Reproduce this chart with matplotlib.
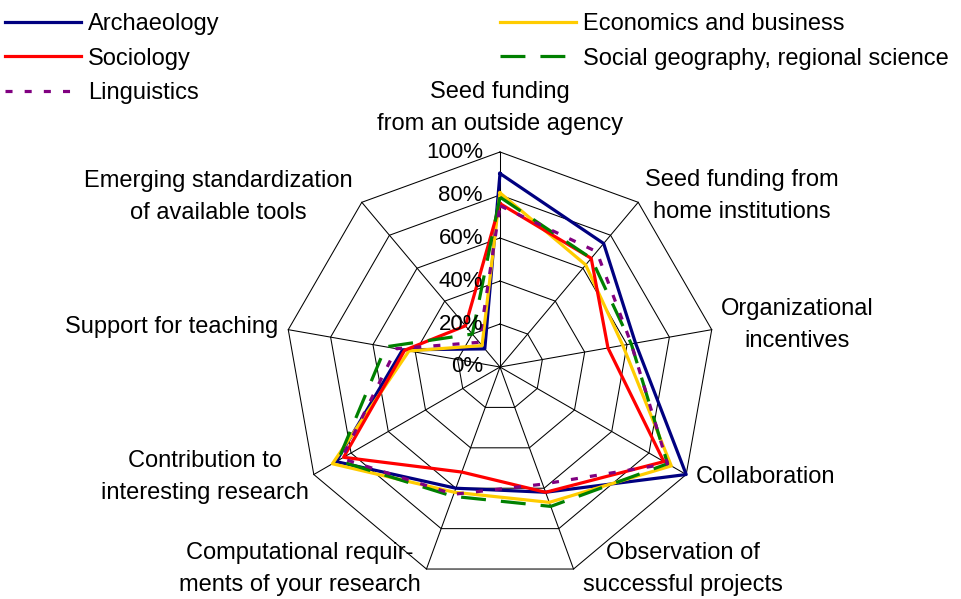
import numpy as np
import matplotlib
matplotlib.use("Agg")
import matplotlib.pyplot as plt
from matplotlib.transforms import ScaledTranslation

plt.rcParams['font.family'] = ['Liberation Sans', 'DejaVu Sans']

categories = [
    "Seed funding\nfrom an outside agency",
    "Seed funding from\nhome institutions",
    "Organizational\nincentives",
    "Collaboration",
    "Observation of\nsuccessful projects",
    "Computational requir-\nments of your research",
    "Contribution to\ninteresting research",
    "Support for teaching",
    "Emerging standardization\nof available tools",
]
tick_levels = [0, 20, 40, 60, 80, 100]
tick_labels = ["0%", "20%", "40%", "60%", "80%", "100%"]

archaeology = [90, 75, 64, 100, 62, 60, 88, 46, 11]
economics = [81, 62, 58, 92, 67, 62, 90, 43, 13]
sociology = [76, 66, 51, 88, 62, 52, 84, 45, 25]
social_geo = [79, 66, 62, 90, 69, 64, 87, 54, 20]
linguistics = [75, 70, 62, 90, 58, 63, 85, 49, 15]

series_names = ["Archaeology", "Economics and business", "Sociology",
                "Social geography, regional science", "Linguistics"]
series_values = [archaeology, economics, sociology, social_geo, linguistics]

FS = 17
W, H = 962, 599
fig = plt.figure(figsize=(W / 100, H / 100), dpi=100)
cx, cy, R = 500, 367, 215
ax = fig.add_axes([(cx - R) / W, (H - cy - R) / H, 2 * R / W, 2 * R / H],
                  projection='polar')
ax.set_theta_zero_location('N')
ax.set_theta_direction(-1)
ax.set_ylim(0, 100)
ax.grid(False)
ax.set_xticks([])
ax.set_yticks([])
ax.spines['polar'].set_visible(False)
ax.patch.set_alpha(0)

n = len(categories)
theta = np.linspace(0, 2 * np.pi, n, endpoint=False)
closed = np.append(theta, theta[0])

for lvl in tick_levels[1:]:
    ax.plot(closed, [lvl] * (n + 1), color='black', lw=0.75, zorder=1, clip_on=False)
for t in theta:
    ax.plot([t, t], [0, 100], color='black', lw=0.75, zorder=1, clip_on=False)

lw = 2.3
styles = {
    "Archaeology": dict(color='#000080', ls='-'),
    "Economics and business": dict(color='#FFCC00', ls='-'),
    "Sociology": dict(color='#FF0000', ls='-'),
    "Social geography, regional science": dict(color='#008000', ls=(0, (7.8, 4.7))),
    "Linguistics": dict(color='#800080', ls=(0, (2.2, 3.8))),
}
handles = {}
for name, vals in zip(series_names, series_values):
    st = styles[name]
    line, = ax.plot(closed, list(vals) + [vals[0]], color=st['color'],
                    linestyle=st['ls'], lw=lw, zorder=3, clip_on=False,
                    label=name)
    handles[name] = line

off = ScaledTranslation(-17 / 100, 0, fig.dpi_scale_trans)
for v, lab in zip(tick_levels, tick_labels):
    ax.text(0, v, lab, ha='right', va='center', fontsize=16,
            transform=ax.transData + off, zorder=4)

label_pos = [(500, 108), (742, 196), (797, 325), (766, 477), (683, 569),
             (300, 569), (205, 477), (172, 327), (218, 197)]
for lab, (x, y) in zip(categories, label_pos):
    fig.text(x / W, 1 - y / H, lab, ha='center', va='center', fontsize=FS,
             linespacing=1.58, multialignment='center')

common = dict(loc='upper left', frameon=False, handlelength=3.2,
              handletextpad=0.3, labelspacing=0.53, borderpad=0,
              borderaxespad=0, fontsize=FS)
fig.legend(handles=[handles["Archaeology"], handles["Sociology"], handles["Linguistics"]],
           bbox_to_anchor=(5 / W, 1 - 13 / H), **common)
fig.legend(handles=[handles["Economics and business"],
                    handles["Social geography, regional science"]],
           bbox_to_anchor=(500 / W, 1 - 13 / H), **common)

fig.savefig("out.png", dpi=100)
